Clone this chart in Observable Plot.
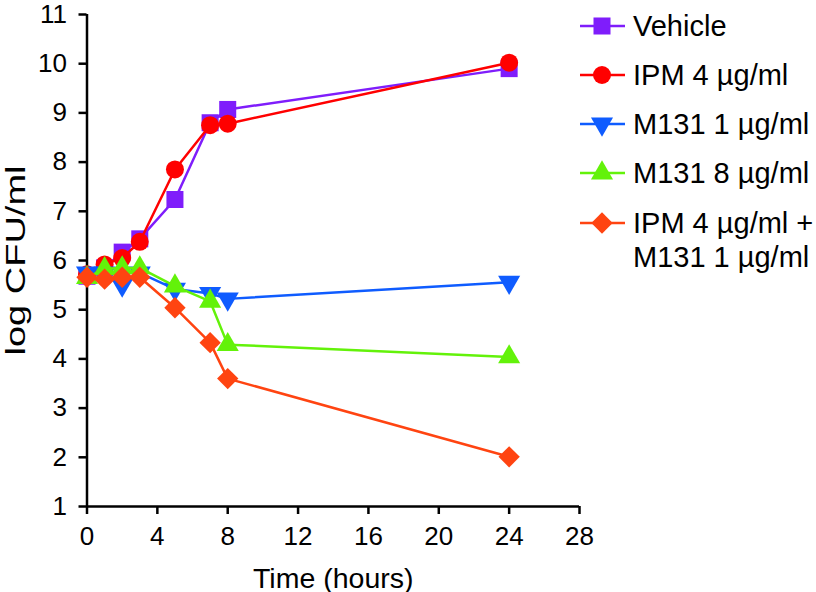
<!DOCTYPE html>
<html>
<head>
<meta charset="utf-8">
<script src="https://cdn.jsdelivr.net/npm/d3@7"></script>
<script src="https://cdn.jsdelivr.net/npm/@observablehq/plot@0.6"></script>
<style>
  body { margin: 0; background: #fff; font-family: "Liberation Sans", Arial, sans-serif; }
  #wrap { position: relative; width: 816px; height: 592px; overflow: hidden; }
  #chart { position: absolute; left: 0; top: 0; }
  #chart svg g[aria-label="x-axis tick label"] text,
  #chart svg g[aria-label="y-axis tick label"] text { font-size: 26px; }
  #chart svg g[aria-label="x-axis label"] text { font-size: 28.5px; }
  #chart svg g[aria-label="y-axis label"] text { font-size: 28px; }
  #chart svg g[aria-label="x-axis tick"], #chart svg g[aria-label="y-axis tick"] { stroke-width: 2.5px; }
  #legend { position: absolute; left: 578px; top: 0; font-size: 29px; color: #000; }
  .item { position: absolute; left: 0; display: flex; align-items: flex-start; white-space: nowrap; }
  .item span { line-height: 34px; }
</style>
</head>
<body>
<div id="wrap"><div id="chart"></div><div id="legend"></div></div>
<script>
const hours = [0, 1, 2, 3, 5, 7, 8, 24];
const seriesNames = ["Vehicle", "IPM 4 µg/ml", "M131 1 µg/ml", "M131 8 µg/ml", "IPM 4 µg/ml +\nM131 1 µg/ml"];
const vehicle = [5.68, 5.85, 6.17, 6.44, 7.24, 8.80, 9.07, 9.90];
const ipm4 = [5.72, 5.92, 6.05, 6.38, 7.85, 8.75, 8.78, 10.02];
const m131_1 = [5.75, 5.75, 5.50, 5.75, 5.42, 5.33, 5.22, 5.56];
const m131_8 = [5.65, 5.83, 5.85, 5.85, 5.48, 5.17, 4.29, 4.04];
const combo = [5.66, 5.62, 5.66, 5.66, 5.04, 4.33, 3.60, 2.01];
const xTicks = [0, 4, 8, 12, 16, 20, 24, 28];
const yTicks = [1, 2, 3, 4, 5, 6, 7, 8, 9, 10, 11];

const colors = ["#7f1dfb", "#ff0000", "#0f5cff", "#63f20a", "#ff4411"];
const symbols = ["square", "circle", "triangle", "triangle", "diamond2"];
const rotations = [0, 0, 180, 0, 0];
const radii = [9.6, 9, 8.2, 8.2, 9.6];
const values = [vehicle, ipm4, m131_1, m131_8, combo];

const rows = [];
values.forEach((vals, s) => vals.forEach((v, i) => rows.push({series: seriesNames[s], t: hours[i], v, s})));

const marks = [];
seriesNames.forEach((name, s) => {
  const d = rows.filter(r => r.s === s);
  marks.push(Plot.line(d, {x: "t", y: "v", stroke: colors[s], strokeWidth: 2.5}));
  marks.push(Plot.dot(d, {x: "t", y: "v", fill: colors[s], stroke: "none", symbol: symbols[s], r: radii[s], rotate: rotations[s]}));
});

const plot = Plot.plot({
  width: 605,
  height: 592,
  marginLeft: 86.5,
  marginRight: 26,
  marginTop: 14,
  marginBottom: 86,
  style: {fontFamily: "'Liberation Sans', Arial, sans-serif", color: "#000", background: "transparent", overflow: "visible"},
  x: {domain: [0, 28]},
  y: {domain: [1, 11]},
  marks: [
    Plot.axisX({ticks: xTicks, tickSize: 8, tickPadding: 12, strokeWidth: 2.5, strokeOpacity: 1, label: "Time (hours)", labelAnchor: "center", labelArrow: "none", labelOffset: 81}),
    Plot.axisY({ticks: yTicks, tickSize: 8, tickPadding: 12, strokeWidth: 2.5, strokeOpacity: 1, label: "log CFU/ml", labelAnchor: "center", labelArrow: "none", labelOffset: 82}),
    Plot.ruleX([0], {stroke: "#000", strokeWidth: 2.5}),
    Plot.ruleY([1], {stroke: "#000", strokeWidth: 2.5}),
    ...marks
  ]
});
document.getElementById("chart").appendChild(plot);
// the reference's y label is drawn stretched along its length
plot.querySelectorAll('g[aria-label="y-axis label"] text').forEach(t => {
  t.setAttribute("textLength", 190);
  t.setAttribute("lengthAdjust", "spacingAndGlyphs");
});

// Legend
const legend = document.getElementById("legend");
const baselines = [35, 84, 133, 182, 232];
const symMap = {square: d3.symbolSquare, circle: d3.symbolCircle, triangle: d3.symbolTriangle, diamond2: d3.symbolDiamond2};
seriesNames.forEach((name, s) => {
  const item = document.createElement("div");
  item.className = "item";
  item.style.top = (baselines[s] - 26.5) + "px";
  const svg = d3.create("svg").attr("width", 55).attr("height", 34).style("flex", "none");
  svg.append("line").attr("x1", 2).attr("x2", 47).attr("y1", 17).attr("y2", 17)
    .attr("stroke", colors[s]).attr("stroke-width", 2.5);
  svg.append("path")
    .attr("d", d3.symbol(symMap[symbols[s]], Math.PI * radii[s] * radii[s])())
    .attr("transform", `translate(24,17) rotate(${rotations[s]})`)
    .attr("fill", colors[s]);
  item.appendChild(svg.node());
  const text = document.createElement("span");
  text.innerHTML = name.split("\n").join("<br>");
  item.appendChild(text);
  legend.appendChild(item);
});
</script>
</body>
</html>
